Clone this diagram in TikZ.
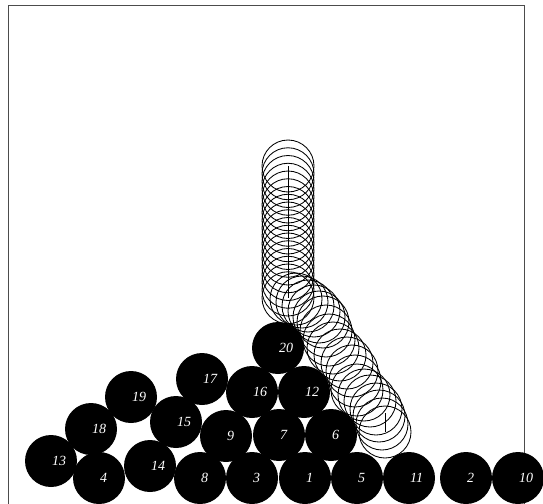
\documentclass[tikz,border=0pt]{standalone}
\usepackage{fontspec}
\setmainfont{Liberation Serif}
\usetikzlibrary{positioning}

\begin{document}
\begin{tikzpicture}[
  x=1pt, y=-1pt,
  font=\fontsize{14}{16}\selectfont\itshape,
  ball/.style={circle,fill=black,minimum size=52pt,inner sep=0pt},
  ballnum/.style={text=white,anchor=west,inner sep=0pt},
  ghost/.style={draw=black,line width=0.85pt}
]
\useasboundingbox (0,0) rectangle (543,503);
\clip (0,0) rectangle (543,503);

% box
\draw[black!70,line width=0.9pt] (8,5) rectangle (524,530);

% falling ball, vertical part
\foreach \i in {0,...,17}
  \draw[ghost] (288,166+7.75*\i) circle[radius=26];
% rolling part
\foreach \gx/\gy in {296/299,302/302,308/306,314/311,319/317,323/322,326/331,
                     329/340,333/348,340/355,347/363,352/371,355/381,357/390,
                     364/395,370/401,376/409,379/416,382/424,385/432}
  \draw[ghost] (\gx,\gy) circle[radius=26];

\coordinate (top) at (288,166);
\coordinate (drop) at (288,298);
\coordinate (rest0) at (385,413);
\coordinate (rest) at (385,432);
\draw[ghost] (top) -- (drop);
\draw[ghost] (rest0) -- (rest);

% settled balls
\foreach \n/\bx/\by in {1/305/478,2/466/478,3/252/478,4/99/478,5/357/478,
                        6/331/435,7/279/435,8/200/478,9/226/436,10/518/478,
                        11/409/478,12/304/392,13/51/461,14/150/466,15/176/422,
                        16/252/392,17/202/379,18/91/429,19/131/397,20/278/348}
{
  \node[ball] (b\n) at (\bx,\by) {};
  \node[ballnum] (n\n) at ([xshift=1pt]b\n.center) {\n};
}
\end{tikzpicture}
\end{document}
